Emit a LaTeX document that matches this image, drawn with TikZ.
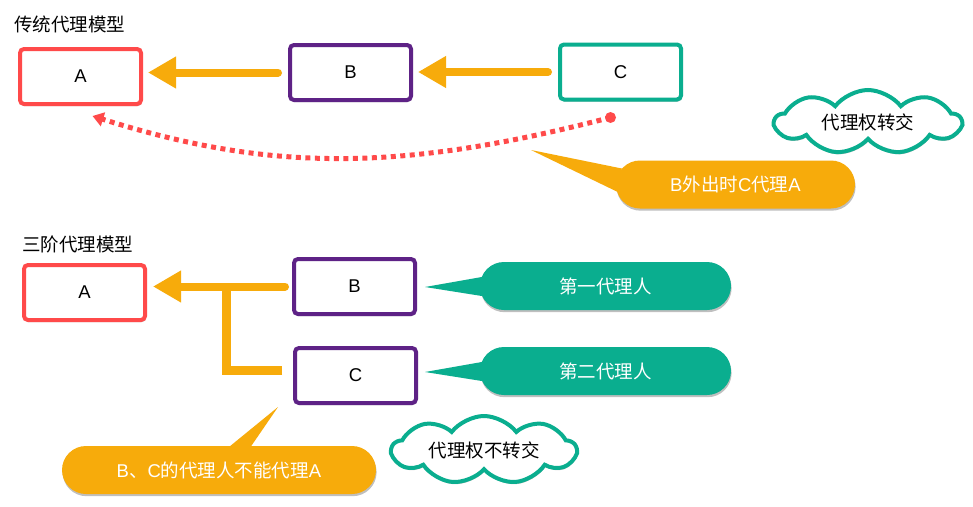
\documentclass[tikz,border=0pt]{standalone}
\usepackage{fontspec}
\setmainfont{Liberation Sans}
\newfontfamily\cjk{Noto Sans CJK SC}
\usetikzlibrary{arrows.meta,shapes.symbols,shadows,calc}
\definecolor{cred}{HTML}{FF4A4A}
\definecolor{cpurple}{HTML}{5E2286}
\definecolor{cteal}{HTML}{0AAE8F}
\definecolor{corange}{HTML}{F7AB0B}
\tikzset{
  sh/.style={drop shadow={shadow xshift=0.6pt,shadow yshift=-2.2pt,opacity=0.25,fill=black}},
  boxnode/.style={draw,line width=4pt,fill=white,rounded corners=4pt,minimum width=121pt,minimum height=55pt,font=\fontsize{18.5}{20}\selectfont,sh},
  pill/.style={fill=#1,rounded corners=24pt,minimum height=48pt,text=white,font=\fontsize{18.5}{20}\selectfont,sh},
  cloudnode/.style={cloud,cloud puffs=9,cloud puff arc=105,cloud ignores aspect,draw=cteal,line width=4pt,fill=white,inner sep=0pt,font=\fontsize{18.5}{20}\selectfont,sh},
  fatarrow/.style={corange,line width=8pt,line cap=round,-{Triangle[length=28pt,width=30pt]}},
  title/.style={anchor=west,inner sep=0pt,font=\fontsize{18.5}{20}\selectfont\cjk},
}
\begin{document}
\begin{tikzpicture}[x=1pt,y=-1pt]
\fill[white] (0,0) rectangle (973,506);
\useasboundingbox (0,0) rectangle (973,506);

% ---------- top ----------
\node[title] (t1) at (14,24) {传统代理模型};
\node[boxnode,draw=cred] (A1) at (80.5,76.5) {A};
\node[boxnode,draw=cpurple] (B1) at (350.5,72.5) {B};
\node[boxnode,draw=cteal] (C1) at (620.5,72) {C};

\draw[fatarrow,shorten <=10pt,shorten >=5pt] (B1.west) -- (A1.east |- B1.west);
\draw[fatarrow,shorten <=10pt,shorten >=5pt] (C1.west) -- (B1.east |- C1.west);

\coordinate (ds) at ($(C1.south)+(-10,16)$);
\coordinate (de) at ($(A1.south)+(12,10)$);
\fill[cred] (ds) circle (5.5);
\draw[cred,line width=5pt,dash pattern=on 5pt off 4.5pt,-{Triangle[length=11pt,width=14pt]}]
  (ds) .. controls (400,172) and (270,172) .. (de);

\node[cloudnode,minimum width=186pt,minimum height=64pt] (cl1) at (868,122) {\cjk 代理权转交};

\node[pill=corange,minimum width=239pt] (p1) at (735.5,184.5) {B{\cjk 外出时}C{\cjk 代理}A};
\coordinate (p1t) at (531,150);
\fill[corange] (p1t) -- ($(p1.west)+(6,-16)$) -- ($(p1.west)+(3,8)$) -- cycle;

% ---------- bottom ----------
\node[title] (t2) at (22,244) {三阶代理模型};
\node[boxnode,draw=cred] (A2) at (84.5,292.5) {A};
\node[boxnode,draw=cpurple] (B2) at (354.5,286.5) {B};
\node[boxnode,draw=cpurple] (C2) at (355.5,375.5) {C};

\draw[fatarrow,shorten <=7pt,shorten >=6pt] (B2.west) -- (A2.east |- B2.west);
\coordinate (j) at (226,286);
\draw[corange,line width=9pt] ($(C2.west)+(-11,-5)$) -| (j);

\node[pill=cteal,minimum width=251pt] (p2) at (605.5,286) {\cjk 第一代理人};
\fill[cteal] ($(B2.east)+(8,0.5)$) -- ($(p2.west)+(2,-9)$) -- ($(p2.west)+(2,10)$) -- cycle;
\node[pill=cteal,minimum width=251pt] (p3) at (605.5,371) {\cjk 第二代理人};
\fill[cteal] ($(C2.east)+(7,-3.5)$) -- ($(p3.west)+(2,-9)$) -- ($(p3.west)+(2,10)$) -- cycle;

\node[cloudnode,minimum width=184pt,minimum height=68pt] (cl2) at (484,450) {\cjk 代理权不转交};

\node[pill=corange,minimum width=314pt] (p4) at (219,470) {B{\cjk 、}C{\cjk 的代理人不能代理}A};
\coordinate (p4t) at (278,407);
\fill[corange] (p4t) -- ($(p4.north)+(9,2)$) -- ($(p4.north)+(31,2)$) -- cycle;
\end{tikzpicture}
\end{document}
